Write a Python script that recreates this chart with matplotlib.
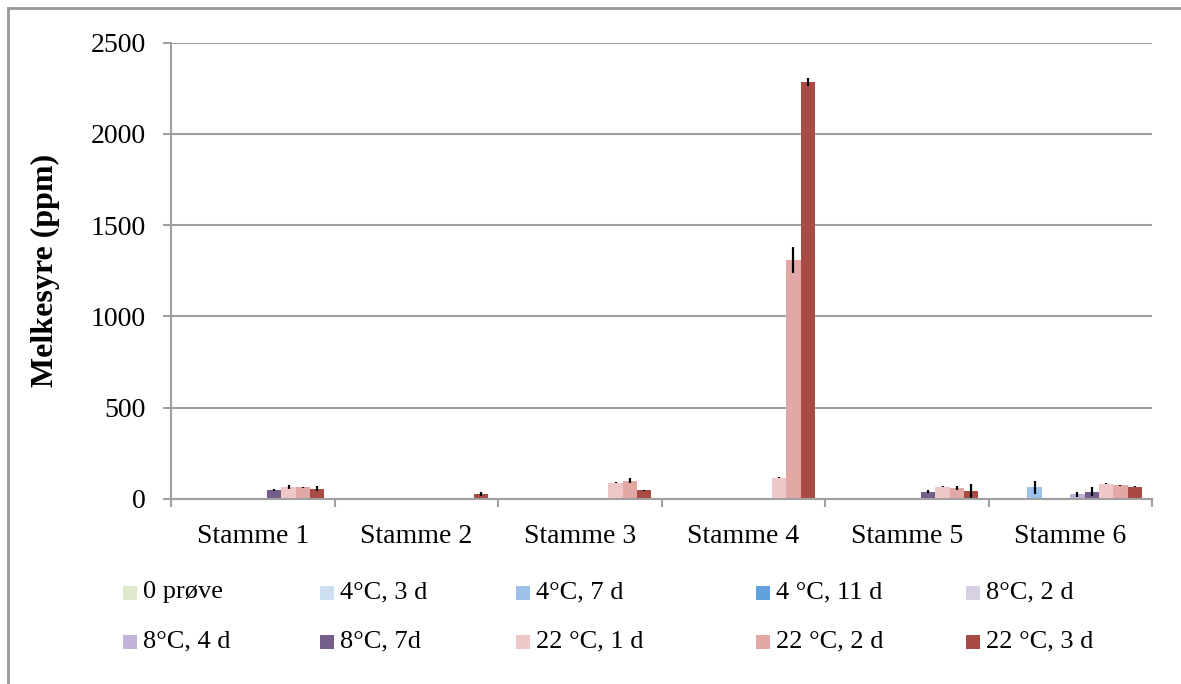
import numpy as np
import matplotlib.pyplot as plt
from matplotlib.lines import Line2D
from matplotlib.patches import Rectangle

# strains on the x axis
stammer = ['Stamme 1', 'Stamme 2', 'Stamme 3', 'Stamme 4', 'Stamme 5', 'Stamme 6']

# storage conditions (one bar series each)
serier = ['0 prøve', '4°C, 3 d', '4°C, 7 d', '4 °C, 11 d', '8°C, 2 d',
          '8°C, 4 d', '8°C, 7d', '22 °C, 1 d', '22 °C, 2 d', '22 °C, 3 d']

# lactic acid (ppm), rows follow serier, columns follow stammer
melkesyre = [
    [0, 0, 0, 0, 0, 0],
    [0, 0, 0, 0, 0, 0],
    [0, 0, 0, 0, 0, 63],
    [0, 0, 0, 0, 0, 0],
    [0, 0, 0, 0, 0, 0],
    [0, 0, 0, 0, 0, 25],
    [51, 0, 0, 0, 40, 40],
    [66, 0, 88, 117, 67, 84],
    [63, 0, 100, 1310, 60, 76],
    [55, 27, 47, 2286, 45, 66],
]

# standard deviations
stdavvik = [
    [0, 0, 0, 0, 0, 0],
    [0, 0, 0, 0, 0, 0],
    [0, 0, 0, 0, 0, 36],
    [0, 0, 0, 0, 0, 0],
    [0, 0, 0, 0, 0, 0],
    [0, 0, 0, 0, 0, 14],
    [6, 0, 0, 0, 7, 26],
    [12, 0, 3, 3, 3, 3],
    [4, 0, 14, 72, 11, 3],
    [14, 12, 3, 22, 37, 3],
]

farger = ['#DEE9CC', '#CCDEF2', '#9DC1E9', '#62A1DD', '#D8D0E3',
          '#C0B3D7', '#755E8C', '#EEC7C6', '#E2A8A6', '#A84B45']

plt.rcParams['font.family'] = 'Liberation Serif'
plt.rcParams['font.size'] = 20

W, H = 1181, 684
fig = plt.figure(figsize=(11.81, 6.84), dpi=100)
ax = fig.add_axes([0.1448, 0.2705, 0.9755 - 0.1448, 0.9376 - 0.2705])

x = np.arange(len(stammer))
width = 0.0875
n = len(serier)
for i, navn in enumerate(serier):
    verdi = np.array(melkesyre[i], dtype=float)
    feil = np.array(stdavvik[i], dtype=float)
    pos = x + (i - (n - 1) / 2) * width
    ax.bar(pos, verdi, width, color=farger[i], label=navn, zorder=2)
    mask = feil > 0
    if mask.any():
        ax.errorbar(pos[mask], verdi[mask], yerr=feil[mask], fmt='none',
                    ecolor='black', elinewidth=1.6, capsize=0, zorder=3)

grid_col = '#A0A0A0'
ax.set_xlim(-0.5, len(stammer) - 0.5)
ax.set_ylim(0, 2500)
ax.set_yticks(np.arange(0, 2501, 500))
ax.yaxis.grid(True, color=grid_col, linewidth=1.5, zorder=0)
ax.set_axisbelow(True)

# category boundaries carry the tick marks, labels sit at the centres
ax.set_xticks(np.arange(-0.5, len(stammer), 1.0))
ax.set_xticklabels([])
ax.set_xticks(x, minor=True)
ax.set_xticklabels(stammer, minor=True)
ax.tick_params(axis='x', which='major', direction='out', length=6, width=1.5, color=grid_col)
ax.tick_params(axis='x', which='minor', length=0, pad=18)
ax.tick_params(axis='y', direction='out', length=6, width=1.5, color=grid_col, pad=12)

for side in ['top', 'right']:
    ax.spines[side].set_visible(False)
for side in ['left', 'bottom']:
    ax.spines[side].set_color(grid_col)
    ax.spines[side].set_linewidth(1.5)

# y axis title
fig.text(45 / W, 1 - 270 / H, 'Melkesyre (ppm)', rotation=90, ha='center', va='center',
         fontweight='bold', fontsize=23)

# legend in a 5 x 2 grid below the plot
kol_x = [123, 320, 516, 756, 966]
rad_y = [593, 642]
for i, navn in enumerate(serier):
    r, k = divmod(i, 5)
    x0 = kol_x[k]
    y0 = rad_y[r]
    fig.add_artist(Rectangle((x0 / W, 1 - (y0 + 7) / H), 14 / W, 14 / H,
                             transform=fig.transFigure, facecolor=farger[i],
                             edgecolor='none'))
    fig.text((x0 + 20) / W, 1 - (y0 - 1) / H, navn, ha='left', va='center', fontsize=19)

# chart frame (left and top edges)
fig.add_artist(Line2D([7.5 / W, 7.5 / W], [0, 1 - 7.5 / H], transform=fig.transFigure,
                      color='#999999', linewidth=2))
fig.add_artist(Line2D([7.5 / W, 1], [1 - 7.5 / H, 1 - 7.5 / H], transform=fig.transFigure,
                      color='#999999', linewidth=2))

fig.savefig('out.png', dpi=100)
